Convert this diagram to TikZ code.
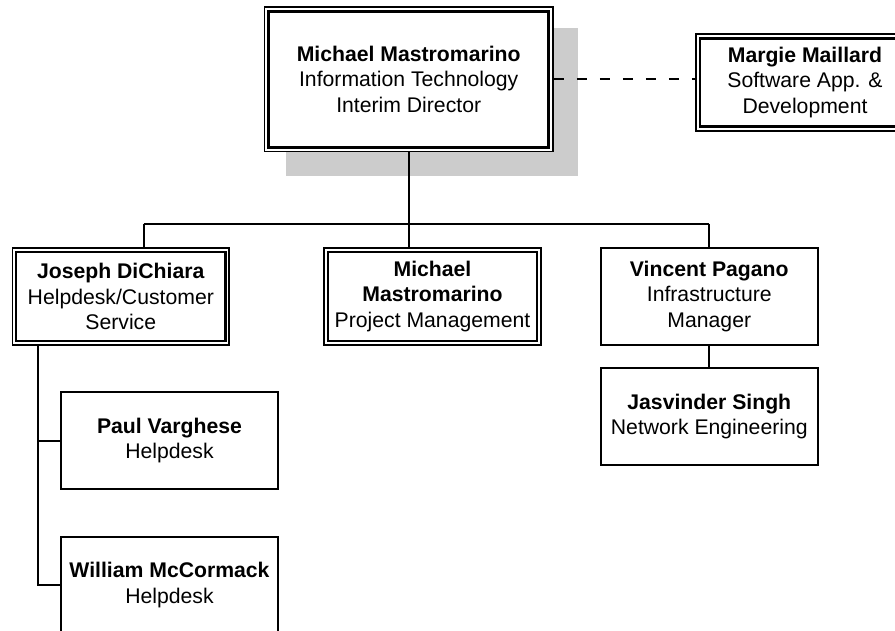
\documentclass[tikz,border=0pt]{standalone}
\usepackage{fontspec}
\setmainfont{Liberation Sans}
\definecolor{shadowgray}{RGB}{204,204,204}
\begin{document}
\begin{tikzpicture}[x=1pt,y=-1pt,
  box/.style={draw, line width=1.9pt, fill=white, minimum width=216.5pt, minimum height=96.5pt,
    inner sep=0pt, align=center, font=\fontsize{21.2}{25.5}\selectfont},
  dbox/.style={box, line width=1.6pt},
  innerline/.style={line width=2.3pt},
  conn/.style={line width=2pt},
  dashconn/.style={line width=1.8pt, dash pattern=on 10pt off 13pt}
]
\useasboundingbox (0,0) rectangle (895,630);
% shadow of top box
\fill[shadowgray] (286,28) rectangle (578,176);
% top box
\node[dbox, minimum width=288.7pt, minimum height=144.7pt] (top) at (408.7,79.3)
  {\textbf{Michael Mastromarino}\\Information Technology\\Interim Director};
\draw[innerline, line width=2.8pt] ([shift={(5,5)}]top.north west) rectangle ([shift={(-5,-5)}]top.south east);
% Margie
\node[dbox, minimum width=218pt] (mar) at (805,82.5)
  {\textbf{Margie Maillard}\\Software App. \&\\Development};
\draw[innerline] ([shift={(5,5)}]mar.north west) rectangle ([shift={(-5,-5)}]mar.south east);
% second level
\node[dbox] (jos) at (120.8,296.5) {\textbf{Joseph DiChiara}\\Helpdesk/Customer\\Service};
\draw[innerline] ([shift={(4.5,4.5)}]jos.north west) rectangle ([shift={(-4.5,-4.5)}]jos.south east);
\node[dbox] (pm) at (432.5,296.5) {\textbf{Michael}\\\textbf{Mastromarino}\\Project Management};
\draw[innerline] ([shift={(4.5,4.5)}]pm.north west) rectangle ([shift={(-4.5,-4.5)}]pm.south east);
\node[box] (vin) at (709.3,296.3) {\textbf{Vincent Pagano}\\Infrastructure\\Manager};
% third level
\node[box] (jas) at (709.3,416.3) {\textbf{Jasvinder Singh}\\Network Engineering};
\node[box] (paul) at (169.5,440.5) {\textbf{Paul Varghese}\\Helpdesk};
\node[box] (wil) at (169.5,585) {\textbf{William McCormack}\\Helpdesk};
% connectors
\coordinate (busL) at (143.5,223.5);
\coordinate (busR) at (708.5,223.5);
\coordinate (spine) at (37.7,0);
\draw[conn] (top.south) -- (top.south |- busL);
\draw[conn] (busL) -- (busR);
\draw[conn] (busL) -- (busL |- jos.north);
\draw[conn] (top.south |- busL) -- (top.south |- pm.north);
\draw[conn] (busR) -- (busR |- vin.north);
\draw[conn] (vin.south) -- (jas.north);
\draw[conn] (spine |- jos.south) -- (spine |- wil.west) -- (wil.west);
\draw[conn] (spine |- paul.west) -- (paul.west);
\draw[dashconn] (top.east) -- (top.east -| mar.west);
\end{tikzpicture}
\end{document}
